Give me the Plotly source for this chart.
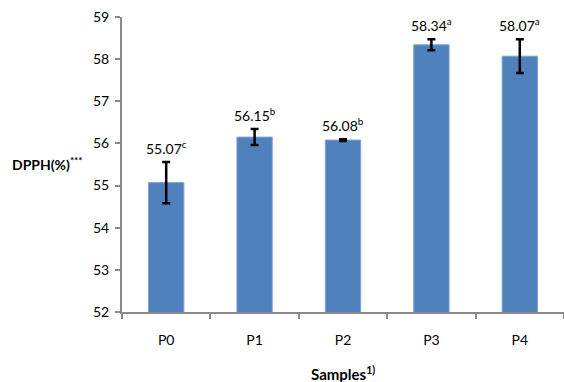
import plotly.graph_objects as go

samples = ["P0", "P1", "P2", "P3", "P4"]
dpph = [55.07, 56.15, 56.08, 58.34, 58.07]
sd = [0.49, 0.19, 0.02, 0.13, 0.40]
letters = ["c", "b", "b", "a", "a"]

FONT = "Lato, Open Sans, sans-serif"

fig = go.Figure()
fig.add_trace(go.Bar(
    x=samples, y=dpph, base=0,
    marker=dict(color="#4F81BD", line=dict(color="#7FA3D3", width=1)),
    width=0.4,
    error_y=dict(type="data", array=sd, visible=True, color="black", thickness=2.5, width=4),
))

for s, v, e, l in zip(samples, dpph, sd, letters):
    fig.add_annotation(x=s, y=v + e, text=f"{v:.2f}<sup>{l}</sup>", showarrow=False,
                       yanchor="bottom", yshift=3, font=dict(family=FONT, size=14, color="black"))

fig.add_annotation(xref="paper", yref="paper", x=-0.085, xanchor="right", y=0.505, yanchor="middle",
                   text="<b>DPPH(%)<sup>***</sup></b>", showarrow=False,
                   font=dict(family=FONT, size=14, color="black"))
fig.add_annotation(xref="paper", yref="paper", x=0.5, xanchor="center", y=-0.207, yanchor="middle",
                   text="<b>Samples<sup>1)</sup></b>", showarrow=False,
                   font=dict(family=FONT, size=15, color="black"))

fig.update_layout(
    width=564, height=382,
    margin=dict(l=122, r=0, t=17, b=70, autoexpand=False),
    plot_bgcolor="white", paper_bgcolor="white",
    showlegend=False,
    font=dict(family=FONT, size=14, color="black"),
    xaxis=dict(showline=True, linecolor="#898989", linewidth=2, ticks="outside",
               tickson="boundaries", ticklen=5, tickwidth=2, tickcolor="#898989",
               showgrid=False, tickfont=dict(size=14), ticklabelstandoff=14, automargin=False),
    yaxis=dict(range=[52, 59], dtick=1, showline=True, linecolor="#898989", linewidth=2,
               ticks="outside", ticklen=5, tickwidth=2, tickcolor="#898989",
               showgrid=False, zeroline=False, tickfont=dict(size=14), ticklabelstandoff=3,
               automargin=False),
    bargap=0.6,
)

fig.write_html("out.html", config={"displayModeBar": False},
               post_script="document.body.style.margin='0';")
